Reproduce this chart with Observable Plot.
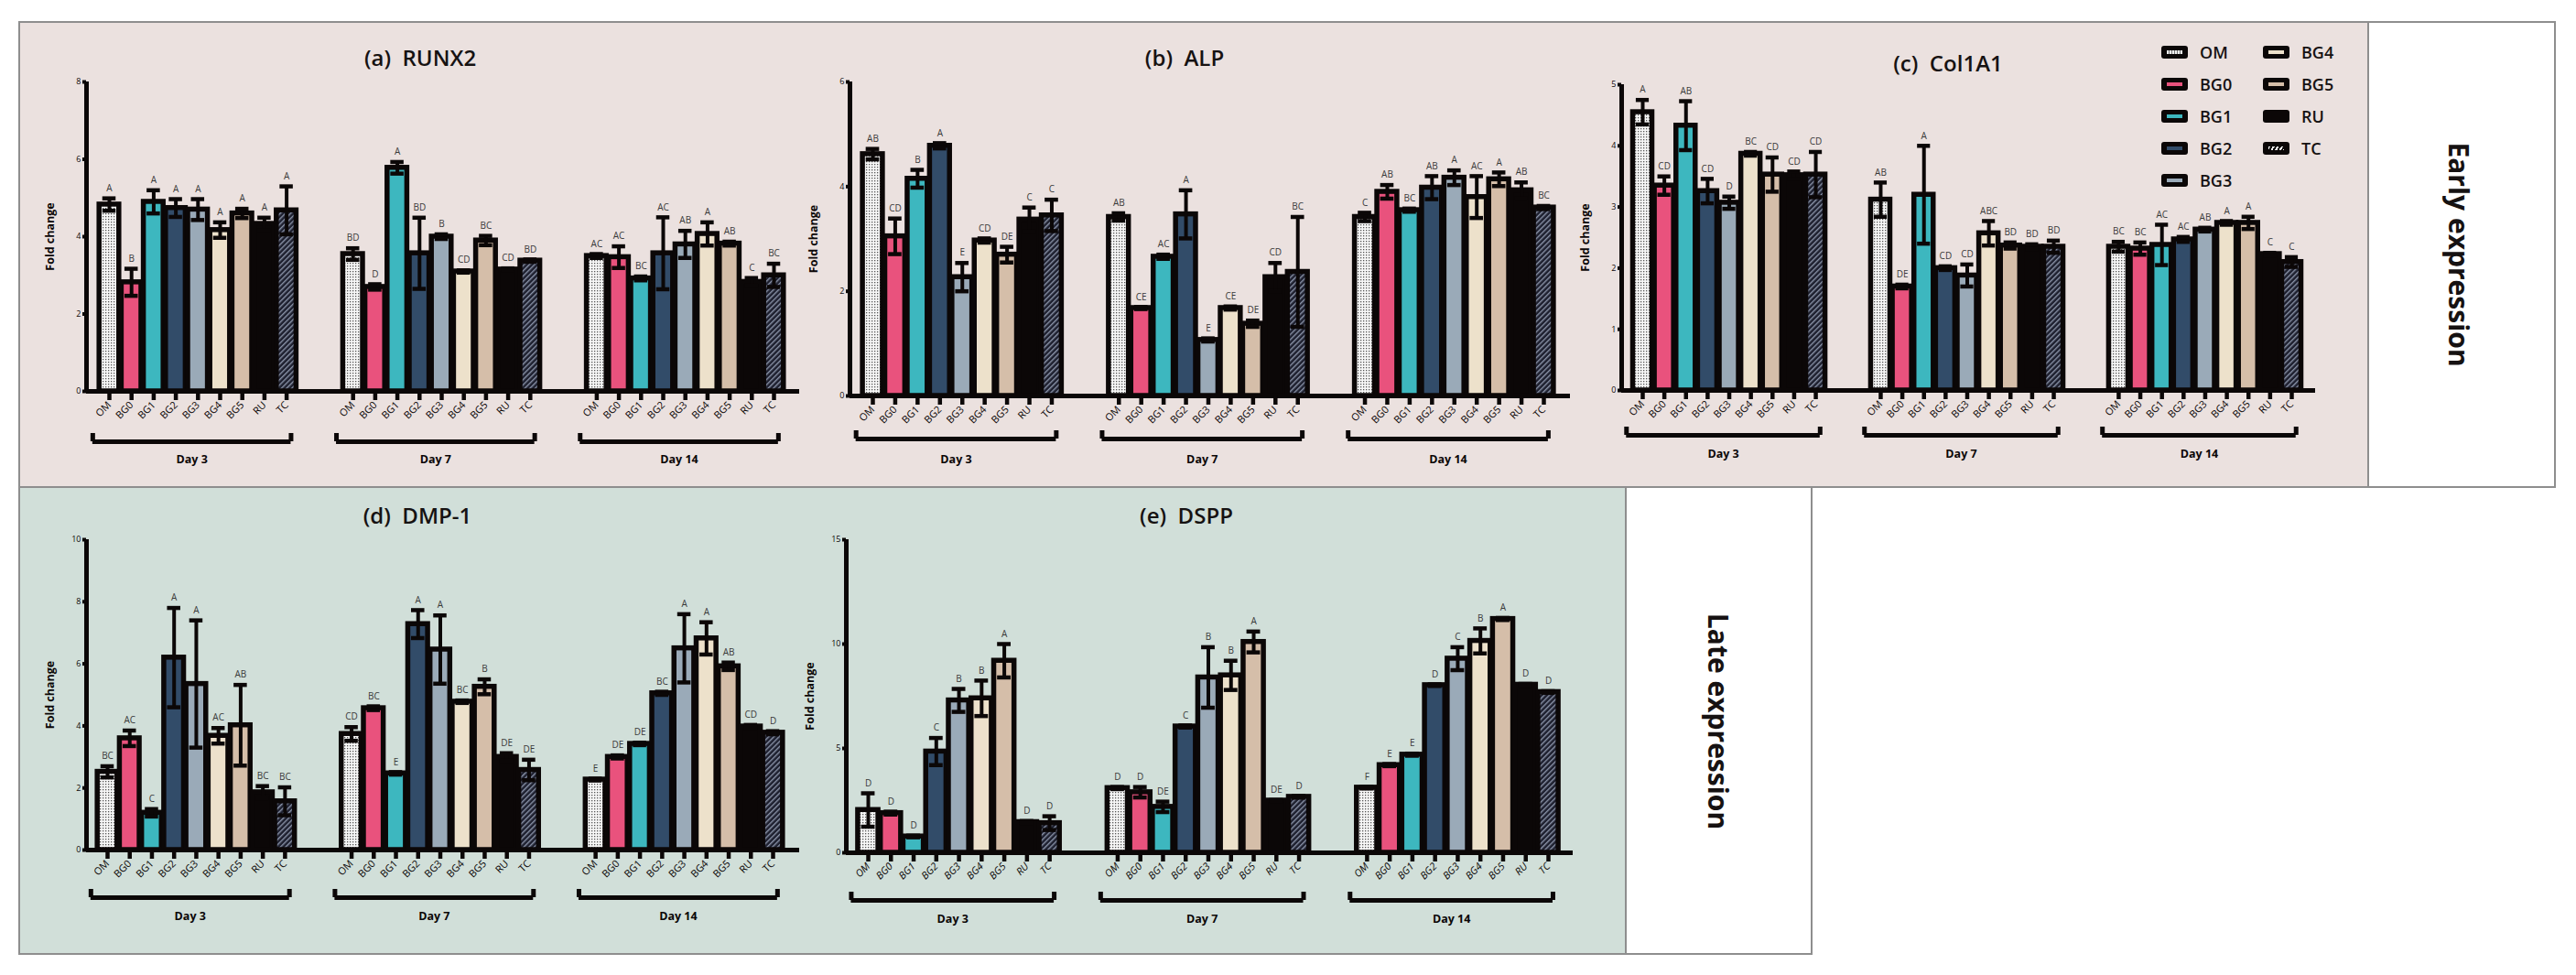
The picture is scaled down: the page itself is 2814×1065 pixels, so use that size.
<!DOCTYPE html>
<html><head><meta charset="utf-8">
<script src="https://cdn.jsdelivr.net/npm/d3@7"></script>
<script src="https://cdn.jsdelivr.net/npm/@observablehq/plot@0.6"></script>
<style>
body{margin:0;background:#fff;font-family:"Open Sans",sans-serif;}
#root{position:relative;width:2814px;height:1065px;overflow:hidden;background:#fff}
.box{position:absolute;box-sizing:border-box;border:2px solid #8e8e8e}
.title{position:absolute;transform:translate(-50%,-50%);font-size:24px;font-weight:600;color:#161212;white-space:pre}
.side{position:absolute;transform:translate(-50%,-50%) rotate(90deg);font-size:30px;font-weight:700;color:#161212;white-space:nowrap}
.leg{position:absolute;display:flex;align-items:center;font-size:18px;font-weight:600;color:#161212;height:18px}
.sw{width:29px;height:14px;background:#0b0707;border-radius:3px;margin-right:13px;display:flex;align-items:center;justify-content:center}
.sw i{display:block;width:17px;height:4px}
</style></head>
<body>
<svg width="0" height="0" style="position:absolute">
 <defs>
  <pattern id="pOM" patternUnits="userSpaceOnUse" width="3" height="3"><rect width="3" height="3" fill="#f7f7f7"/><rect x="1" y="1" width="1.3" height="1.3" fill="#555"/></pattern>
  <pattern id="pTC" patternUnits="userSpaceOnUse" width="4" height="4" patternTransform="rotate(45)"><rect width="4" height="4" fill="#1d1f2e"/><rect x="0" y="0" width="1.4" height="4" fill="#8a93a8"/></pattern>
 </defs>
</svg>
<div id="root">
  <div class="box" style="left:20px;top:23px;width:2772px;height:510px;background:#ebe1df"></div>
  <div class="box" style="left:2586px;top:23px;width:206px;height:510px;background:#fff"></div>
  <div class="box" style="left:20px;top:531px;width:1960px;height:512px;background:#d1dfd9"></div>
  <div class="box" style="left:1775px;top:531px;width:205px;height:512px;background:#fff"></div>
  <div class="side" style="left:2686px;top:278px">Early expression</div>
  <div class="side" style="left:1877px;top:788px">Late expression</div>
  <div class="title" style="left:459px;top:62px">(a)  RUNX2</div>
  <div class="title" style="left:1294px;top:62px">(b)  ALP</div>
  <div class="title" style="left:2128px;top:68px">(c)  Col1A1</div>
  <div class="title" style="left:456px;top:562px">(d)  DMP-1</div>
  <div class="title" style="left:1296px;top:562px">(e)  DSPP</div>
  <div id="legend"></div>
</div>
<script>
// ---------- data ----------
const days = ["Day 3", "Day 7", "Day 14"];
const cats = ["OM", "BG0", "BG1", "BG2", "BG3", "BG4", "BG5", "RU", "TC"];
const catColors = ["url(#pOM)", "#e9527d", "#3db7bf", "#324c69", "#9aaab8", "#ede1cb", "#d5bea9", "#0b0707", "url(#pTC)"];

// values in order Day 3 (9 groups), Day 7 (9), Day 14 (9)
const runx2Mean = [4.83, 2.82, 4.9, 4.74, 4.7, 4.17, 4.6, 4.33, 4.68,
                   3.55, 2.7, 5.78, 3.57, 4.0, 3.1, 3.9, 3.15, 3.38,
                   3.5, 3.47, 2.92, 3.57, 3.8, 4.07, 3.82, 2.83, 3.0];
const runx2SD   = [0.16, 0.35, 0.3, 0.23, 0.27, 0.2, 0.12, 0.16, 0.62,
                   0.15, 0.07, 0.15, 0.92, 0.06, 0.03, 0.12, 0.03, 0.03,
                   0.05, 0.28, 0.05, 0.93, 0.35, 0.3, 0.05, 0.1, 0.3];
const runx2Sig  = ["A","B","A","A","A","A","A","A","A",
                   "BD","D","A","BD","B","CD","BC","CD","BD",
                   "AC","AC","BC","AC","AB","A","AB","C","BC"];

const alpMean = [4.62, 3.05, 4.15, 4.78, 2.27, 2.97, 2.7, 3.37, 3.45,
                 3.42, 1.68, 2.66, 3.47, 1.07, 1.68, 1.38, 2.27, 2.37,
                 3.42, 3.9, 3.55, 3.98, 4.17, 3.8, 4.14, 3.93, 3.6];
const alpSD   = [0.1, 0.34, 0.17, 0.05, 0.27, 0.04, 0.15, 0.23, 0.3,
                 0.07, 0.02, 0.04, 0.46, 0.03, 0.03, 0.06, 0.27, 1.05,
                 0.08, 0.13, 0.03, 0.22, 0.14, 0.4, 0.13, 0.15, 0.03];
const alpSig  = ["AB","CD","B","A","E","CD","DE","C","C",
                 "AB","CE","AC","A","E","CE","DE","CD","BC",
                 "C","AB","BC","AB","A","AC","A","AB","BC"];

const colMean = [4.55, 3.35, 4.33, 3.26, 3.07, 3.87, 3.53, 3.52, 3.53,
                 3.12, 1.7, 3.2, 2.0, 1.88, 2.57, 2.37, 2.35, 2.35,
                 2.35, 2.32, 2.38, 2.47, 2.63, 2.74, 2.74, 2.23, 2.1];
const colSD   = [0.2, 0.15, 0.4, 0.2, 0.1, 0.03, 0.28, 0.06, 0.37,
                 0.28, 0.03, 0.8, 0.03, 0.18, 0.2, 0.05, 0.04, 0.1,
                 0.08, 0.1, 0.33, 0.04, 0.03, 0.03, 0.1, 0.02, 0.08];
const colSig  = ["A","CD","AB","CD","D","BC","CD","CD","CD",
                 "AB","DE","A","CD","CD","ABC","BD","BD","BD",
                 "BC","BC","AC","AC","AB","A","A","C","C"];

const dmpMean = [2.52, 3.6, 1.2, 6.2, 5.35, 3.68, 4.02, 1.86, 1.57,
                 3.74, 4.57, 2.47, 7.28, 6.46, 4.78, 5.26, 3.0, 2.58,
                 2.27, 3.0, 3.42, 5.05, 6.5, 6.82, 5.92, 3.98, 3.78];
const dmpSD   = [0.18, 0.25, 0.12, 1.6, 2.05, 0.25, 1.3, 0.2, 0.45,
                 0.22, 0.06, 0.04, 0.45, 1.1, 0.04, 0.24, 0.12, 0.33,
                 0.03, 0.05, 0.04, 0.05, 1.1, 0.52, 0.12, 0.05, 0.05];
const dmpSig  = ["BC","AC","C","A","A","AC","AB","BC","BC",
                 "CD","BC","E","A","A","BC","B","DE","DE",
                 "E","DE","DE","BC","A","A","AB","CD","D"];

const dsppMean = [2.05, 1.9, 0.78, 4.85, 7.3, 7.4, 9.2, 1.47, 1.42,
                  3.1, 2.9, 2.2, 6.05, 8.4, 8.5, 10.1, 2.5, 2.68,
                  3.12, 4.2, 4.7, 8.03, 9.3, 10.15, 11.2, 8.05, 7.7];
const dsppSD   = [0.8, 0.07, 0.04, 0.65, 0.55, 0.85, 0.8, 0.05, 0.33,
                  0.05, 0.25, 0.25, 0.05, 1.45, 0.7, 0.5, 0.03, 0.04,
                  0.04, 0.05, 0.05, 0.04, 0.55, 0.6, 0.05, 0.04, 0.04];
const dsppSig  = ["D","D","D","C","B","B","A","D","D",
                  "D","D","DE","C","B","B","A","DE","D",
                  "F","E","E","D","C","B","A","D","D"];

// ---------- layout ----------
const layouts = {
  a: {ax: 94,   first: 119,  last: 845,  xEnd: 873,  y0: 427, yTop: 89,  ymax: 8,  step: 2, bdy: 55, ldy: 74},
  b: {ax: 928,  first: 953,  last: 1686, xEnd: 1715, y0: 432, yTop: 89,  ymax: 6,  step: 2, bdy: 47, ldy: 69},
  c: {ax: 1771, first: 1794, last: 2503, xEnd: 2529, y0: 426, yTop: 92,  ymax: 5,  step: 1, bdy: 49, ldy: 69},
  d: {ax: 94,   first: 117,  last: 844,  xEnd: 873,  y0: 928, yTop: 589, ymax: 10, step: 2, bdy: 52, ldy: 72},
  e: {ax: 924,  first: 948,  last: 1691, xEnd: 1718, y0: 931, yTop: 589, ymax: 15, step: 5, bdy: 52, ldy: 72, italic: true}
};

function rowsFor(mean, sd, sig) {
  return mean.map((m, k) => ({
    slot: Math.floor(k / 9) * 11 + (k % 9),
    cat: cats[k % 9], mean: m, sd: sd[k], sig: sig[k], fill: catColors[k % 9]
  }));
}

const INK = "#0b0707";
function panel(rows, L) {
  const pitch = (L.last - L.first) / 30;
  const xLo = (L.ax - L.first) / pitch, xHi = (L.xEnd - L.first) / pitch;
  const mL = 70, mR = 12, mT = 16, mB = 100;
  const width = L.xEnd - L.ax + mL + mR;
  const height = L.y0 - L.yTop + mT + mB;
  const groups = days.map((day, g) => ({day, x1: g * 11 - 0.75, x2: g * 11 + 8.2, xc: g * 11 + 3.725}));
  const ends = groups.flatMap(g => [{x: g.x1}, {x: g.x2}]);
  const svg = Plot.plot({
    width, height, marginLeft: mL, marginRight: mR, marginTop: mT, marginBottom: mB,
    style: {background: "transparent", overflow: "visible", fontFamily: "Open Sans, sans-serif", color: INK},
    x: {domain: [xLo, xHi]},
    y: {domain: [0, L.ymax]},
    color: {type: "identity"},
    marks: [
      Plot.rect(rows, {x1: d => d.slot - 0.5, x2: d => d.slot + 0.5, y1: 0, y2: "mean", fill: "fill",
        stroke: INK, strokeWidth: 5.5, insetLeft: 1.3, insetRight: 1.3}),
      Plot.ruleX(rows, {x: "slot", y1: d => d.mean - d.sd, y2: d => d.mean + d.sd, stroke: INK, strokeWidth: 4}),
      Plot.ruleY(rows, {y: d => d.mean + d.sd, x1: d => d.slot - 0.3, x2: d => d.slot + 0.3, stroke: INK, strokeWidth: 4.5}),
      Plot.ruleY(rows, {y: d => d.mean - d.sd, x1: d => d.slot - 0.3, x2: d => d.slot + 0.3, stroke: INK, strokeWidth: 4.5}),
      Plot.text(rows, {x: "slot", y: d => d.mean + d.sd, text: "sig", dy: -11, fontSize: 10, fill: "#3a3a3a"}),
      Plot.ruleY([0], {stroke: INK, strokeWidth: 5}),
      Plot.ruleX([xLo], {stroke: INK, strokeWidth: 5}),
      Plot.axisY({ticks: d3.range(0, L.ymax + 0.001, L.step), tickFormat: d => String(Math.round(d)),
        tickSize: 4, tickPadding: 2, fontSize: 9, strokeWidth: 4, label: null}),
      Plot.axisX({ticks: rows.map(d => d.slot), tickFormat: s => cats[s % 11], tickRotate: -45, tickSize: 10,
        tickPadding: 3, fontSize: 11, strokeWidth: 4.5, label: null, fontStyle: L.italic ? "italic" : "normal"}),
      Plot.text(["Fold change"], {frameAnchor: "left", text: d => d, rotate: -90, dx: -40, textAnchor: "middle",
        fontSize: 12.5, fontWeight: "bold"}),
      Plot.ruleY(groups, {y: 0, x1: "x1", x2: "x2", dy: L.bdy, stroke: INK, strokeWidth: 5}),
      Plot.ruleX(ends, {x: "x", y1: 0, y2: 0, insetBottom: 9, dy: L.bdy, stroke: INK, strokeWidth: 5}),
      Plot.text(groups, {x: "xc", y: 0, text: "day", dy: L.ldy, fontSize: 12.5, fontWeight: "bold"})
    ]
  });
  svg.style.position = "absolute";
  svg.style.left = (L.ax - mL) + "px";
  svg.style.top = (L.yTop - mT) + "px";
  return svg;
}

const root = document.getElementById("root");
root.appendChild(panel(rowsFor(runx2Mean, runx2SD, runx2Sig), layouts.a));
root.appendChild(panel(rowsFor(alpMean, alpSD, alpSig), layouts.b));
root.appendChild(panel(rowsFor(colMean, colSD, colSig), layouts.c));
root.appendChild(panel(rowsFor(dmpMean, dmpSD, dmpSig), layouts.d));
root.appendChild(panel(rowsFor(dsppMean, dsppSD, dsppSig), layouts.e));

// ---------- legend ----------
const stripe = {
  OM: "repeating-linear-gradient(90deg,#eeeeee 0 2px,#777 2px 3px)",
  RU: "transparent",
  TC: "repeating-linear-gradient(120deg,#eeeeee 0 2px,transparent 2px 4px)"
};
const legend = document.getElementById("legend");
cats.forEach((c, i) => {
  const col = i < 5 ? 0 : 1, row = i < 5 ? i : i - 5;
  const el = document.createElement("div");
  el.className = "leg";
  el.style.left = (col ? 2472 : 2361) + "px";
  el.style.top = (57 + row * 35 - 9) + "px";
  const sw = document.createElement("div"); sw.className = "sw";
  const st = document.createElement("i");
  st.style.background = stripe[c] || catColors[i];
  sw.appendChild(st);
  el.appendChild(sw);
  el.appendChild(document.createTextNode(c));
  legend.appendChild(el);
});
</script>
</body></html>
